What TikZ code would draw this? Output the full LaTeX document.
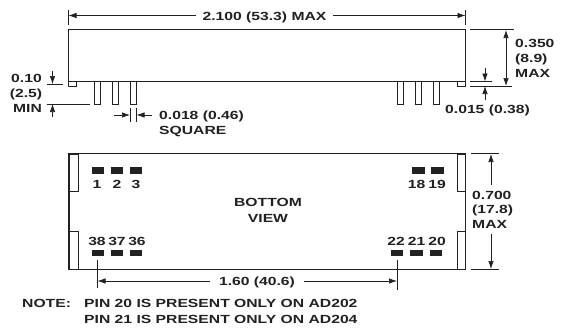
\documentclass[tikz,border=0pt]{standalone}
\usepackage{fontspec}
\setmainfont[FakeStretch=1.33]{Liberation Sans}
\usetikzlibrary{arrows.meta}
\definecolor{ink}{gray}{0.13}
\tikzset{
  lab/.style={font=\fontsize{11.8}{12}\selectfont\bfseries,text=ink,inner sep=0pt,text height=8.4pt,text depth=0pt},
  body/.style={draw=ink,line width=1.5pt},
  thinbox/.style={draw=ink,line width=0.7pt},
  pad/.style={fill=ink,draw=none},
  ext/.style={draw=ink,line width=0.7pt},
  dim/.style={draw=ink,line width=0.7pt,-{Latex[length=8pt,width=5.5pt]}},
}
\begin{document}
\begin{tikzpicture}[x=1pt,y=-1pt]
\useasboundingbox (0,0) rectangle (565,327);
% side view
\draw[thinbox] (68.5,81.5) rectangle (76,86);
\draw[thinbox] (457,81.5) rectangle (465.5,86);
\foreach \x in {94,112,130,397,415,433}
  \draw[thinbox] (\x,81.5) rectangle (\x+6.5,104);
\draw[body] (68.5,29.5) rectangle (465.5,81.5);
% top dimension
\node[lab,outer sep=7pt] (tw) at (264.5,16) {2.100 (53.3) MAX};
\coordinate (wl) at (68.5,15.5);
\coordinate (wr) at (465.5,15.5);
\draw[ext] (68.5,10) -- (68.5,25);
\draw[ext] (465.5,10) -- (465.5,25);
\draw[dim] (tw.west |- wl) -- (wl);
\draw[dim] (tw.east |- wr) -- (wr);
% 0.10
\node[lab] (a1) at (26.5,78) {0.10};
\node[lab] (a2) at (26,93) {(2.5)};
\node[lab] (a3) at (27.5,108) {MIN};
\coordinate (b1) at (52.5,84);
\coordinate (b2) at (52.5,104);
\draw[ext] (47,84) -- (63,84);
\draw[ext] (47,104) -- (90,104);
\draw[dim] (52.5,71) -- (b1);
\draw[dim] (52.5,117) -- (b2);
% 0.018
\node[lab,anchor=west] (c1) at (159,115) {0.018 (0.46)};
\node[lab,anchor=west] (c2) at (159,130) {SQUARE};
\coordinate (d1) at (130,115);
\coordinate (d2) at (136.5,115);
\draw[ext] (130,108) -- (130,122);
\draw[ext] (136.5,108) -- (136.5,122);
\draw[dim] (114,115) -- (d1);
\draw[dim] (152,115) -- (d2);
% 0.350
\node[lab,anchor=west] (e1) at (515,43) {0.350};
\node[lab,anchor=west] (e2) at (515,58) {(8.9)};
\node[lab,anchor=west] (e3) at (515,73) {MAX};
\draw[ext] (470,29.5) -- (514,29.5);
\draw[ext] (470,86) -- (512,86);
\draw[ext] (470,81.5) -- (492,81.5);
\coordinate (f1) at (506,30);
\coordinate (f2) at (506,86);
\draw[{Latex[length=8pt,width=5.5pt]}-{Latex[length=8pt,width=5.5pt]},ext] (f1) -- (f2);
% 0.015
\node[lab] (g) at (487.5,109) {0.015 (0.38)};
\coordinate (h1) at (485,81.5);
\coordinate (h2) at (485,86);
\draw[dim] (485,68) -- (h1);
\draw[dim] (485,100) -- (h2);
% bottom view
\draw[thinbox] (69,154) rectangle (78,191.5);
\draw[thinbox] (69,231.5) rectangle (78,269);
\draw[thinbox] (457,154) rectangle (465,191.5);
\draw[thinbox] (457,231.5) rectangle (465,269);
\draw[body] (69,153.5) rectangle (465.5,269.5);
\foreach \x in {91.5,110.5,129.5,412,431}
  \fill[pad] (\x,167) rectangle (\x+12.5,173.5);
\foreach \x in {91.5,110.5,129.5,390.5,410,429.5}
  \fill[pad] (\x,249.5) rectangle (\x+12.5,256);
\node[lab] (p1) at (97,184) {1};
\node[lab] (p2) at (117,184) {2};
\node[lab] (p3) at (136,184) {3};
\node[lab] (p18) at (416.5,184) {18};
\node[lab] (p19) at (437,184) {19};
\node[lab] (p38) at (97,241) {38};
\node[lab] (p37) at (117,241) {37};
\node[lab] (p36) at (137,241) {36};
\node[lab] (p22) at (396,241) {22};
\node[lab] (p21) at (416.5,241) {21};
\node[lab] (p20) at (437,241) {20};
\node[lab] (v1) at (268,202) {BOTTOM};
\node[lab] (v2) at (268,218) {VIEW};
% 0.700
\node[lab,anchor=west] (i1) at (472,195) {0.700};
\node[lab,anchor=west] (i2) at (472,209) {(17.8)};
\node[lab,anchor=west] (i3) at (472,224) {MAX};
\coordinate (j1) at (491,154);
\coordinate (j2) at (491,269);
\draw[ext] (471,153.5) -- (499,153.5);
\draw[ext] (471,269.5) -- (499,269.5);
\draw[dim] (491,185) -- (j1);
\draw[dim] (491,234) -- (j2);
% 1.60
\node[lab,outer sep=9pt] (k) at (257,281.5) {1.60 (40.6)};
\coordinate (l1) at (97.5,281);
\coordinate (l2) at (397,281);
\draw[ext] (97.5,260) -- (97.5,288);
\draw[ext] (397,260) -- (397,290);
\draw[dim] (k.west |- l1) -- (l1);
\draw[dim] (k.east |- l2) -- (l2);
% note
\node[lab,anchor=west] (n0) at (22,303) {NOTE:};
\node[lab,anchor=west] (n1) at (84,303) {PIN 20 IS PRESENT ONLY ON AD202};
\node[lab,anchor=west] (n2) at (84,319) {PIN 21 IS PRESENT ONLY ON AD204};
\end{tikzpicture}
\end{document}
